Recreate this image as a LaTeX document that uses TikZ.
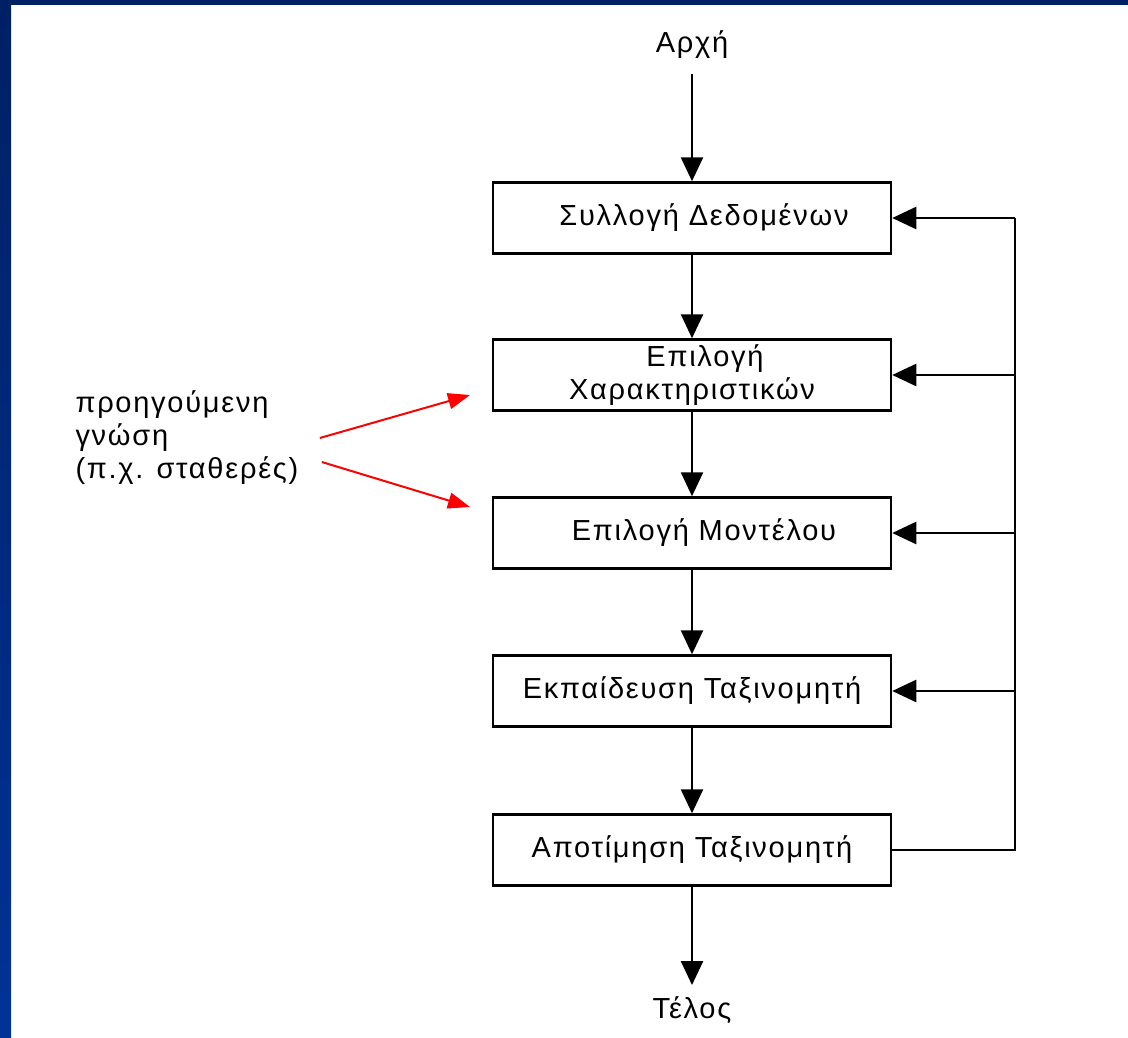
\documentclass[tikz,border=0pt]{standalone}
\usepackage{fontspec}
\setmainfont{Liberation Sans}[LetterSpace=6]
\usetikzlibrary{arrows.meta}
\definecolor{frameblue}{RGB}{0,32,100}
\definecolor{framebluelow}{RGB}{0,50,150}
\tikzset{
  stage/.style={draw, line width=2.5pt, minimum width=398pt, minimum height=71pt, inner sep=0pt, align=center, font=\fontsize{29}{33}\selectfont},
  lbl/.style={font=\fontsize{29}{33}\selectfont},
  flow/.style={line width=2.5pt, -{Triangle[length=24pt,width=22pt]}},
  hint/.style={red, line width=2pt, -{Triangle[length=22pt,width=16pt]}},
}
\begin{document}
\begin{tikzpicture}[x=1pt,y=-1pt]
\useasboundingbox (0,0) rectangle (1128,1037);
\fill[white] (0,0) rectangle (1128,1037);
\shade[top color=frameblue, bottom color=framebluelow] (0,0) rectangle (11,1037);
\fill[frameblue] (0,0) rectangle (1128,5);
% main chain
\node[lbl] (start) at (692,45) {Αρχή};
\node[stage] (collect) at (692,218) {\hspace*{24pt}Συλλογή Δεδομένων};
\node[stage] (features) at (692,375) {\hspace*{26pt}Επιλογή\hfill\null\\Χαρακτηριστικών};
\node[stage] (model) at (692,533) {\hspace*{24pt}Επιλογή Μοντέλου};
\node[stage] (train) at (692,691) {Εκπαίδευση Ταξινομητή};
\node[stage] (eval) at (692,850) {Αποτίμηση Ταξινομητή};
\node[lbl] (end) at (692,1010) {Τέλος};
\draw[flow] ([yshift=-12pt]start.south) -- (collect);
\draw[flow] (collect) -- (features);
\draw[flow] (features) -- (model);
\draw[flow] (model) -- (train);
\draw[flow] (train) -- (eval);
\draw[flow] (eval) -- ([yshift=8pt]end.north);
% feedback
\coordinate (railtop) at (1015,218);
\coordinate (railbot) at (1015,850);
\draw[line width=2.5pt] (eval.east) -- (railbot) -- (railtop);
\foreach \s in {collect,features,model,train}
  \draw[flow] (\s.east -| railbot) -- (\s.east);
% prior knowledge
\node[lbl, align=left, anchor=west] (prior) at (72,438) {προηγούμενη\\γνώση\\(π.χ. σταθερές)};
\coordinate (hinta) at (470,395);
\coordinate (hintb) at (470,507);
\draw[hint] ([xshift=18pt]prior.east) -- (hinta);
\draw[hint] ([xshift=20pt,yshift=-24pt]prior.east) -- (hintb);
\end{tikzpicture}
\end{document}
